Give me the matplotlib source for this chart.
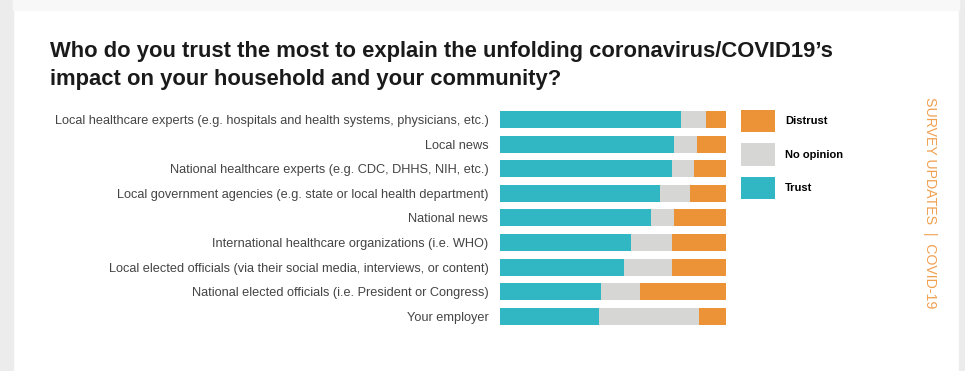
import matplotlib.pyplot as plt
from matplotlib.patches import Rectangle
import numpy as np

categories = [
    "Local healthcare experts (e.g. hospitals and health systems, physicians, etc.)",
    "Local news",
    "National healthcare experts (e.g. CDC, DHHS, NIH, etc.)",
    "Local government agencies (e.g. state or local health department)",
    "National news",
    "International healthcare organizations (i.e. WHO)",
    "Local elected officials (via their social media, interviews, or content)",
    "National elected officials (i.e. President or Congress)",
    "Your employer",
]
trust = [80, 77, 76, 71, 67, 58, 55, 45, 44]
no_opinion = [11, 10, 10, 13, 10, 18, 21, 17, 44]
distrust = [9, 13, 14, 16, 23, 24, 24, 38, 12]

TEAL = "#31b6c4"
GRAY = "#d6d6d4"
ORANGE = "#ec9237"

W, H = 965, 371
fig = plt.figure(figsize=(W / 100, H / 100), dpi=100)
fig.patch.set_facecolor("white")

# card shadow on the sides
fig.patches.append(Rectangle((0, 0), 13 / W, 1, transform=fig.transFigure,
                             color="#ececec", zorder=0))
fig.patches.append(Rectangle((959 / W, 0), 6 / W, 1, transform=fig.transFigure,
                             color="#ececec", zorder=0))
fig.patches.append(Rectangle((13 / W, 1 - 10 / H), 946 / W, 10 / H,
                             transform=fig.transFigure, color="#f8f8f8", zorder=0))

title_lines = [
    "Who do you trust the most to explain the unfolding coronavirus/COVID19\u2019s",
    "impact on your household and your community?",
]
for i, line in enumerate(title_lines):
    fig.text(50 / W, 1 - (57 + 28 * i) / H, line,
             fontsize=15.8, fontweight="bold", family="Liberation Sans",
             color="#1a1a1a", va="baseline", ha="left")

ax = fig.add_axes([499.5 / W, 1 - 328.6 / H, 226.5 / W, 221.4 / H])
y = np.arange(len(categories))
h = 0.69
b1 = ax.barh(y, trust, height=h, color=TEAL, label="Trust")
b2 = ax.barh(y, no_opinion, left=trust, height=h, color=GRAY, label="No opinion")
left3 = np.array(trust) + np.array(no_opinion)
b3 = ax.barh(y, distrust, left=left3, height=h, color=ORANGE, label="Distrust")

ax.set_xlim(0, 100)
ax.set_ylim(len(categories) - 0.5, -0.5)
ax.set_yticks(y)
ax.set_yticklabels(categories, fontsize=9.2, family="Liberation Sans", color="#444444")
ax.tick_params(axis="y", length=0, pad=8)
ax.set_xticks([])
for s in ax.spines.values():
    s.set_visible(False)
ax.patch.set_alpha(0)

fig.legend(handles=[b3, b2, b1], labels=["Distrust", "No opinion", "Trust"],
           loc="upper left", bbox_to_anchor=(741 / W, 1 - 110 / H),
           frameon=False, borderpad=0, borderaxespad=0,
           handlelength=3.1, handleheight=2.7, labelspacing=1.0,
           handletextpad=0.85,
           prop={"family": "Liberation Sans", "weight": "bold", "size": 8})

fig.text(930 / W, 1 - 97 / H, "SURVEY UPDATES  |  COVID-19", rotation=-90,
         fontsize=10.2, family="Liberation Sans", color="#f0a050",
         ha="center", va="top")

fig.savefig("out.png", dpi=100, facecolor=fig.get_facecolor())
